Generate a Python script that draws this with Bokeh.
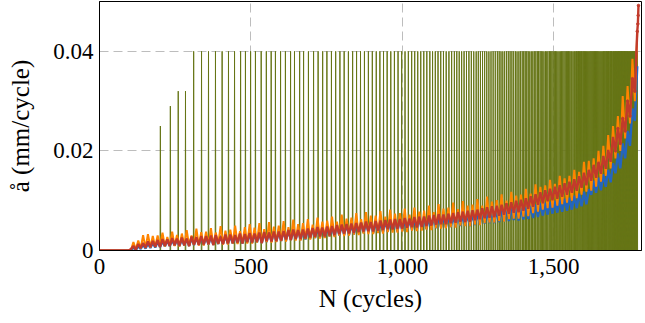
import numpy as np
from bokeh.plotting import figure
from bokeh.models import Range1d, FixedTicker, NumeralTickFormatter, CustomJSTickFormatter
from bokeh.embed import file_html
from bokeh.resources import INLINE

# ---------------- data (rates in units of 1e-4 mm/cycle) ----------------
SCALE = 1e-4
PRE_N = [0, 96]          # flat start, no growth
PRE_V = [0, 0]
N0, DN = 104, 8          # sampled cycles of the smoothed curves: 104, 112, ... 1776

red = [
    3, 9, 2, 13, 5, 15, 6, 18, 7, 19,
    8, 21, 7, 23, 10, 22, 9, 25, 11, 24,
    10, 26, 11, 24, 9, 28, 12, 27, 11, 29,
    12, 29, 13, 30, 11, 31, 14, 28, 13, 32,
    14, 32, 15, 31, 16, 34, 14, 33, 17, 35,
    16, 34, 18, 36, 15, 37, 19, 36, 18, 38,
    19, 38, 20, 39, 22, 41, 21, 42, 23, 41,
    23, 42, 24, 44, 26, 45, 27, 47, 28, 46,
    28, 48, 30, 49, 31, 51, 33, 52, 34, 53,
    34, 54, 35, 55, 37, 56, 38, 58, 39, 57,
    38, 59, 40, 60, 41, 61, 43, 62, 42, 63,
    43, 63, 44, 65, 46, 64, 47, 67, 46, 68,
    47, 68, 49, 70, 50, 71, 52, 73, 53, 72,
    53, 74, 55, 75, 56, 77, 58, 78, 57, 80,
    58, 81, 61, 82, 63, 85, 65, 87, 66, 89,
    67, 90, 70, 92, 72, 95, 74, 97, 76, 100,
    77, 102, 80, 105, 84, 109, 88, 113, 92, 117,
    95, 121, 99, 124, 101, 128, 104, 131, 108, 135,
    112, 138, 116, 143, 120, 149, 126, 156, 131, 162,
    140, 172, 146, 178, 154, 190, 164, 202, 178, 228,
    200, 245, 215, 265, 240, 300, 270, 345, 320, 440,
]
red_tail_N = [1778, 1779, 1780]
red_tail = [455, 472, 492]

orange = [
    1, 17, 2, 20, 4, 31, 5, 33, 6, 29,
    7, 30, 9, 36, 8, 27, 10, 38, 9, 31,
    8, 34, 10, 41, 9, 30, 11, 44, 10, 37,
    10, 38, 12, 45, 11, 36, 13, 49, 12, 40,
    12, 42, 14, 50, 13, 39, 15, 47, 14, 53,
    14, 46, 16, 55, 15, 43, 17, 57, 16, 48,
    17, 50, 19, 59, 18, 47, 21, 62, 20, 53,
    20, 55, 23, 63, 22, 52, 25, 66, 24, 58,
    25, 60, 28, 68, 27, 58, 30, 72, 29, 64,
    30, 66, 32, 75, 31, 63, 34, 77, 33, 70,
    33, 70, 35, 79, 34, 68, 37, 82, 36, 74,
    36, 75, 38, 84, 37, 72, 40, 86, 39, 78,
    40, 80, 42, 90, 41, 77, 45, 93, 44, 84,
    45, 86, 47, 96, 46, 83, 50, 99, 49, 90,
    49, 92, 52, 103, 51, 90, 55, 108, 56, 98,
    56, 101, 59, 113, 58, 100, 63, 118, 64, 110,
    64, 112, 68, 124, 69, 114, 75, 133, 78, 128,
    82, 131, 85, 142, 86, 134, 90, 150, 93, 145,
    96, 150, 100, 162, 105, 158, 112, 178, 118, 180,
    120, 185, 128, 200, 138, 210, 150, 232, 165, 250,
    185, 270, 200, 310, 225, 330, 255, 385, 300, 440,
]

blue = [
    0, 6, 1, 9, 3, 12, 4, 14, 5, 15,
    6, 17, 7, 19, 8, 20, 9, 21, 10, 22,
    9, 23, 10, 24, 9, 25, 11, 26, 12, 27,
    11, 27, 12, 28, 11, 29, 13, 30, 14, 30,
    13, 30, 14, 31, 15, 32, 14, 33, 16, 34,
    15, 34, 16, 35, 15, 36, 17, 37, 18, 38,
    18, 37, 19, 39, 20, 40, 21, 41, 22, 42,
    21, 41, 22, 43, 24, 44, 25, 46, 26, 47,
    26, 47, 28, 48, 29, 50, 30, 51, 31, 52,
    31, 53, 32, 54, 34, 55, 35, 56, 36, 57,
    35, 57, 36, 58, 37, 59, 38, 60, 39, 61,
    38, 61, 39, 62, 40, 63, 41, 64, 42, 65,
    42, 65, 43, 66, 44, 67, 45, 68, 46, 69,
    46, 69, 47, 70, 48, 71, 49, 72, 50, 73,
    49, 74, 51, 76, 52, 77, 54, 79, 55, 80,
    55, 80, 57, 82, 58, 83, 59, 85, 61, 86,
    60, 86, 62, 88, 63, 90, 65, 92, 67, 95,
    70, 96, 72, 98, 74, 100, 76, 102, 78, 104,
    80, 106, 82, 110, 85, 114, 89, 118, 93, 123,
    112, 140, 116, 146, 121, 153, 128, 162, 137, 175,
    155, 195, 165, 215, 185, 240, 210, 285, 260, 370,
]

# cycles at which the raw crack-growth record jumps (raw da/dN spikes)
spike_N = [
    201, 234, 260, 284, 311, 337, 360, 383, 405, 426, 446, 466, 482, 499, 515,
    534, 551, 567, 581, 598, 614, 631, 644, 661, 674, 690, 707,
    722, 737, 751, 766, 780, 794, 808, 822, 836, 849, 862, 875, 888, 901, 914,
    926, 938, 950, 962, 974, 986, 998,
    1009, 1020, 1031, 1041, 1051, 1061, 1071, 1081, 1091, 1100, 1109, 1118,
    1127, 1136, 1145, 1154,
    1163, 1172, 1180, 1188, 1196, 1204, 1212, 1220, 1228, 1236, 1244, 1251,
    1258, 1265, 1272, 1279, 1286, 1293, 1300, 1307, 1314, 1320, 1326, 1332,
    1338, 1344, 1350, 1356,
    1362, 1368, 1374, 1379, 1385, 1390, 1396, 1401, 1406, 1411, 1416, 1421,
    1426, 1431, 1436, 1441, 1446, 1450, 1455, 1459, 1464, 1468, 1473, 1477,
    1481, 1486, 1490,
    1494, 1498, 1502, 1506, 1510, 1514, 1518, 1522, 1526, 1530, 1534, 1538,
    1542, 1546, 1549, 1553, 1557, 1560, 1564, 1568, 1571, 1575, 1578, 1582,
    1585, 1589, 1592, 1596, 1599,
    1602, 1605, 1608, 1611, 1614, 1617, 1620, 1623, 1626, 1629, 1632, 1635,
    1638, 1641, 1644, 1647, 1650, 1653, 1656, 1659, 1662, 1665, 1667, 1670,
    1673, 1675, 1678, 1681, 1683, 1686, 1688, 1691, 1693, 1696, 1698,
    1700, 1702, 1704, 1706, 1708, 1710, 1712, 1714, 1716, 1718, 1720, 1722,
    1724, 1726, 1728, 1730, 1732, 1734, 1736, 1738, 1740, 1742, 1744, 1746,
    1748, 1750, 1752, 1754, 1756, 1758, 1760, 1762, 1764, 1766, 1768, 1770,
    1772, 1774, 1776,
]
spike_first_h = [250, 290, 320, 320]   # first jumps are smaller
SPIKE_H = 400                           # all later jumps: 0.04 mm
LAST_N = 1777

x_ticks = [0, 500, 1000, 1500]
y_ticks = [0, 0.02, 0.04]
x_title = "N (cycles)"
y_title = "å (mm/cycle)"

# ---------------- style ----------------
GREEN = "#667516"
BLUE = "#2465be"
ORANGE = "#ff8400"
RED = "#c23a2b"
FONT = "Liberation Serif"
W, H = 643, 321


def series(vals):
    n = PRE_N + [N0 + DN * i for i in range(len(vals))]
    v = PRE_V + list(vals)
    return n, [a * SCALE for a in v]


# raw per-cycle series from the spike record
raw_N = np.arange(0, LAST_N + 1)
raw_V = np.zeros(LAST_N + 1)
heights = spike_first_h + [SPIKE_H] * (len(spike_N) - len(spike_first_h))
for n, h in zip(spike_N, heights):
    raw_V[n] = h * SCALE

p = figure(width=W, height=H, output_backend="svg", toolbar_location=None,
           x_range=Range1d(0, 1790), y_range=Range1d(0, 0.05),
           min_border_left=99, min_border_right=2, min_border_top=1,
           min_border_bottom=71)
p.background_fill_color = "white"
p.border_fill_color = "white"
p.outline_line_color = "black"
p.outline_line_width = 1
p.outline_line_alpha = 1

p.xaxis.ticker = FixedTicker(ticks=x_ticks)
p.yaxis.ticker = FixedTicker(ticks=y_ticks)
p.xaxis.formatter = NumeralTickFormatter(format="0,0")
p.yaxis.formatter = CustomJSTickFormatter(code="return tick == 0 ? '0' : tick.toFixed(2);")
for ax in (p.xaxis, p.yaxis):
    ax.axis_line_color = "black"
    ax.major_tick_in = 0
    ax.major_tick_out = 0
    ax.minor_tick_in = 0
    ax.minor_tick_out = 0
    ax.major_label_text_font = FONT
    ax.major_label_text_font_size = "23px"
    ax.major_label_text_color = "black"
    ax.axis_label_text_font = FONT
    ax.axis_label_text_font_size = "25px"
    ax.axis_label_text_font_style = "normal"
    ax.axis_label_text_color = "black"
p.xaxis.major_label_standoff = 8
p.yaxis.major_label_standoff = 6
p.xaxis.axis_label = x_title
p.yaxis.axis_label = y_title
p.xaxis.axis_label_standoff = 8
p.yaxis.axis_label_standoff = 16

p.xgrid.ticker = FixedTicker(ticks=[500, 1000, 1500])
p.ygrid.ticker = FixedTicker(ticks=[0.02, 0.04])
p.grid.grid_line_color = "#bdbdbd"
p.grid.grid_line_dash = "9 5"
p.grid.grid_line_width = 1

p.line(raw_N, raw_V, line_color=GREEN, line_width=1)
bn, bv = series(blue)
p.line(bn, bv, line_color=BLUE, line_width=2.4)
on, ov = series(orange)
p.line(on, ov, line_color=ORANGE, line_width=2)
rn, rv = series(red)
rn = rn + red_tail_N
rv = rv + [a * SCALE for a in red_tail]
p.line(rn, rv, line_color=RED, line_width=2.4)
k = [i for i, n in enumerate(rn) if n >= 1700]
p.scatter([rn[i] for i in k], [rv[i] for i in k], size=2.5, color=RED)

open("out.html", "w").write(file_html(p, INLINE))
